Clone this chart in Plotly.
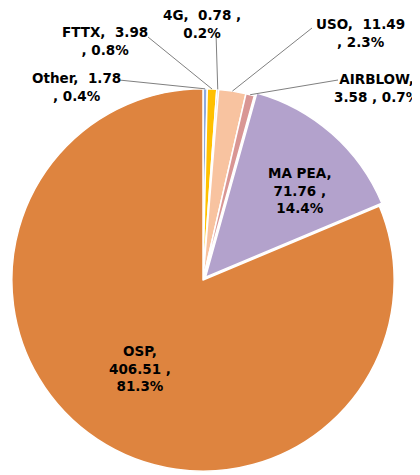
import math
import plotly.graph_objects as go

# ---- data ----
names = ["Other", "FTTX", "4G", "USO", "AIRBLOW", "MA PEA", "OSP"]
values = [1.78, 3.98, 0.78, 11.49, 3.58, 71.76, 406.51]
colors = ["#8FAADC", "#FFC000", "#A5A5A5", "#F8C3A0", "#D99694", "#B3A2CC", "#DE843F"]
pulls = [0, 0, 0, 0, 0, 0.02, 0]
# label line-break templates (Excel style)
templates = [
    "{n},  {v}<br>, {p}",
    "{n},  {v}<br>, {p}",
    "{n},  {v} ,<br>{p}",
    "{n},  {v}<br>, {p}",
    "{n},<br>{v} , {p}",
    "{n},<br>{v} ,<br>{p}",
    "{n},<br>{v} ,<br>{p}",
]
# label centres (px in the 420x475 window) and leader-line starts
label_pos = [(76, 87), (105, 41), (202, 24), (360, 33), (377, 88), (300, 190), (140, 368)]
leader_start = [(119, 80), (148, 37), (216, 33), (312, 28), (338, 80), None, None]

WIN_W, WIN_H = 420, 475
OFF = 8                      # default page body margin
W, H = WIN_W - OFF, WIN_H - OFF
cx, cy, half = 203 - OFF, 280 - OFF, 195   # pie centre / half-size in figure px


def px(x, y):
    return (x - OFF) / W, 1 - (y - OFF) / H


total = sum(values)
texts = []
for n, v, t in zip(names, values, templates):
    p = f"{v / total * 100:.1f}%"
    texts.append(t.format(n=n, v=f"{v:.2f}", p=p))

fig = go.Figure(go.Pie(
    labels=names, values=values, sort=False, direction="clockwise", rotation=0,
    marker=dict(colors=colors, line=dict(color="white", width=1.5)),
    pull=pulls, textinfo="none", textposition="none", showlegend=False,
    hoverinfo="label+value+percent",
    domain=dict(x=[(cx - half) / W, (cx + half) / W], y=[(H - cy - half) / H, (H - cy + half) / H]),
))

r = half / (1 + max(pulls))
annotations, shapes = [], []
cum = 0.0
for i, v in enumerate(values):
    mid = (cum + v / 2) / total * 2 * math.pi
    cum += v
    ax_, ay_ = px(*label_pos[i])
    annotations.append(dict(
        x=ax_, y=ay_, xref="paper", yref="paper", text=texts[i],
        showarrow=False, align="center", xanchor="center", yanchor="middle",
        font=dict(family="DejaVu Sans", size=13.5, color="black", weight="bold"),
    ))
    if leader_start[i] is not None:
        ex = cx + r * math.sin(mid)
        ey = cy - r * math.cos(mid)
        sx, sy = px(*leader_start[i])
        shapes.append(dict(
            type="line", xref="paper", yref="paper",
            x0=sx, y0=sy, x1=ex / W, y1=1 - ey / H,
            line=dict(color="#808080", width=1),
        ))

fig.update_layout(
    width=W, height=H, margin=dict(l=0, r=0, t=0, b=0),
    paper_bgcolor="white", plot_bgcolor="white",
    annotations=annotations, shapes=shapes,
)
fig.write_html("out.html")
